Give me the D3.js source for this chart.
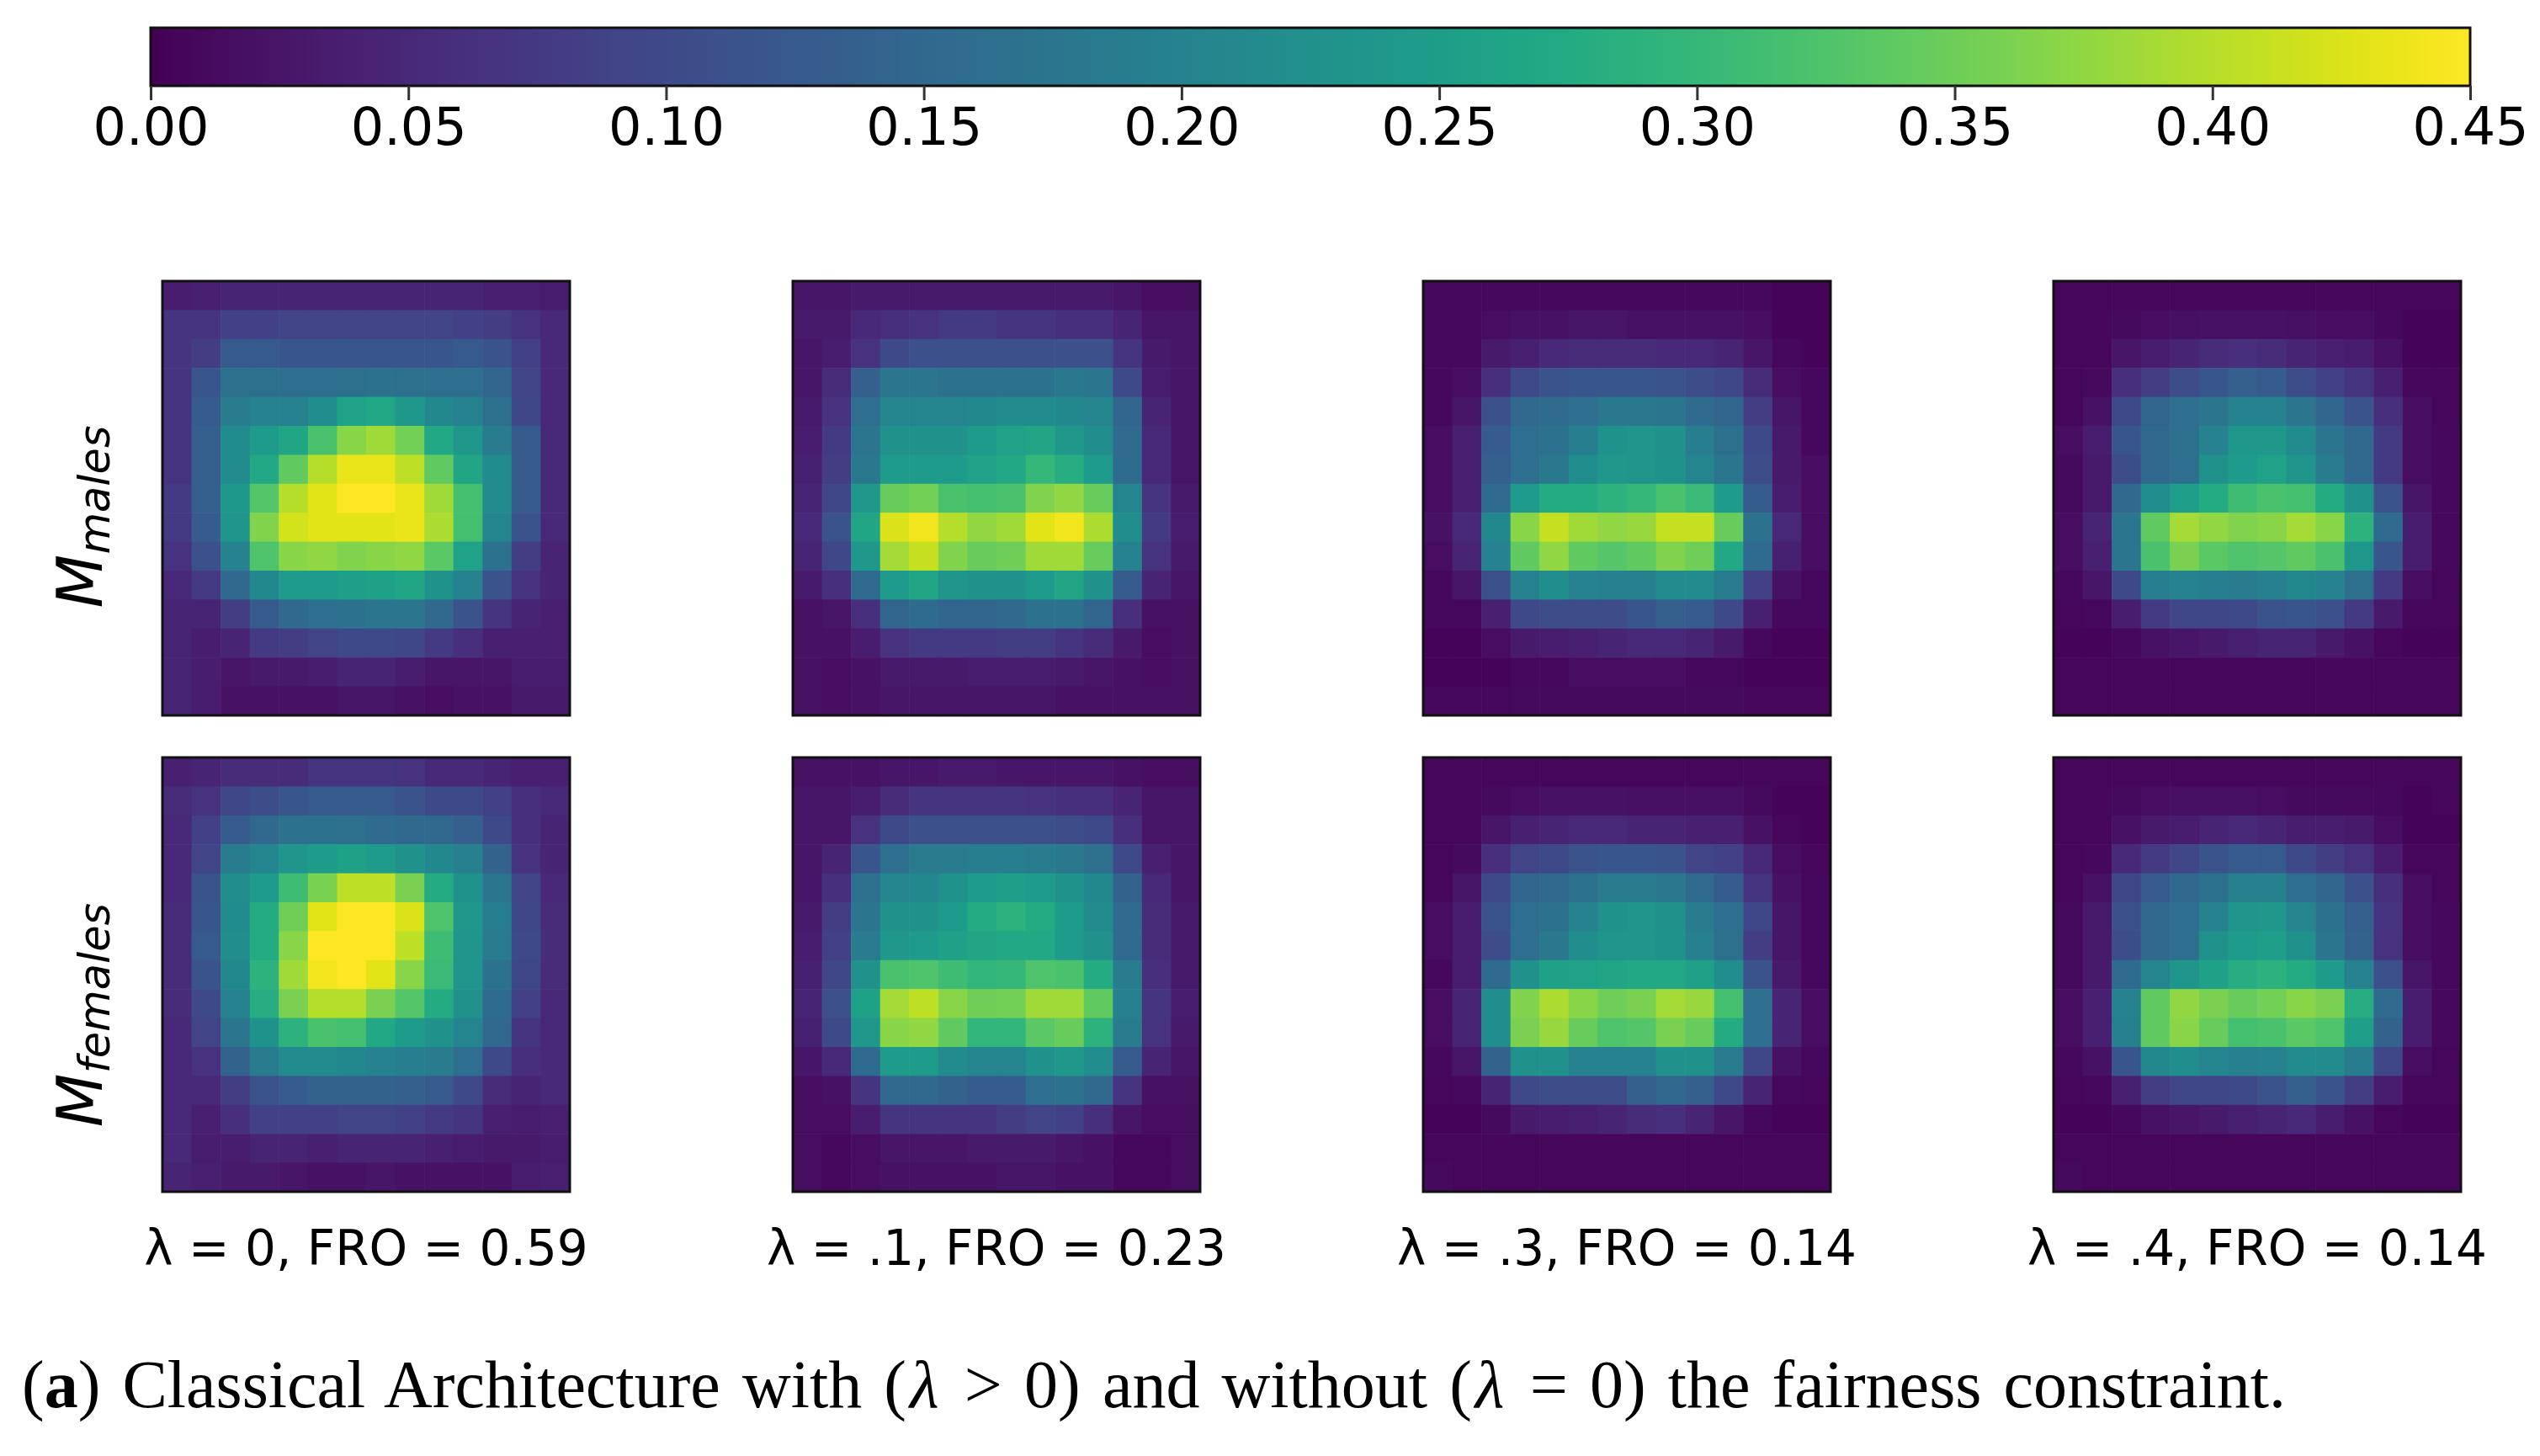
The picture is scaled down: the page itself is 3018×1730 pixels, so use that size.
<!DOCTYPE html>
<html>
<head>
<meta charset="utf-8">
<script src="https://cdn.jsdelivr.net/npm/d3@7"></script>
<style>
    body { margin: 0; background: #fff; }
</style>
</head>
<body>
<script>
//Colorbar ticks and panel labels
var colorTicks = [0.00, 0.05, 0.10, 0.15, 0.20, 0.25, 0.30, 0.35, 0.40, 0.45];
var lambdas = ["0", ".1", ".3", ".4"];
var froScores = ["0.59", "0.23", "0.14", "0.14"];
var rowNames = ["males", "females"];

//Heatmaps: 15 rows x 14 columns each
var malesL0 = [
    [0.035,0.04,0.045,0.045,0.045,0.045,0.045,0.045,0.045,0.045,0.045,0.04,0.04,0.035],
    [0.07,0.07,0.085,0.085,0.09,0.09,0.09,0.09,0.09,0.09,0.085,0.08,0.065,0.05],
    [0.07,0.08,0.125,0.125,0.12,0.12,0.12,0.12,0.12,0.12,0.125,0.115,0.085,0.05],
    [0.07,0.12,0.165,0.165,0.16,0.16,0.165,0.17,0.165,0.16,0.16,0.145,0.09,0.05],
    [0.07,0.13,0.185,0.2,0.2,0.22,0.26,0.27,0.24,0.21,0.2,0.165,0.095,0.05],
    [0.07,0.135,0.215,0.245,0.265,0.32,0.37,0.385,0.355,0.27,0.24,0.185,0.125,0.05],
    [0.07,0.135,0.215,0.27,0.34,0.4,0.435,0.435,0.405,0.34,0.265,0.215,0.125,0.05],
    [0.075,0.135,0.24,0.33,0.4,0.43,0.45,0.45,0.435,0.385,0.315,0.215,0.13,0.05],
    [0.075,0.13,0.235,0.365,0.42,0.43,0.43,0.43,0.435,0.395,0.315,0.205,0.115,0.05],
    [0.065,0.11,0.2,0.325,0.37,0.375,0.365,0.37,0.375,0.335,0.26,0.17,0.08,0.045],
    [0.05,0.075,0.15,0.21,0.245,0.245,0.25,0.255,0.265,0.23,0.2,0.115,0.065,0.045],
    [0.045,0.045,0.08,0.125,0.15,0.16,0.17,0.175,0.175,0.15,0.115,0.07,0.045,0.04],
    [0.045,0.035,0.045,0.075,0.08,0.09,0.1,0.1,0.095,0.075,0.06,0.04,0.04,0.04],
    [0.045,0.035,0.025,0.03,0.03,0.035,0.045,0.045,0.035,0.025,0.025,0.025,0.035,0.035],
    [0.045,0.035,0.02,0.02,0.02,0.02,0.025,0.025,0.02,0.015,0.02,0.02,0.03,0.03]
];
var femalesL0 = [
    [0.04,0.045,0.055,0.055,0.055,0.07,0.07,0.07,0.065,0.05,0.05,0.045,0.04,0.04],
    [0.055,0.065,0.095,0.105,0.12,0.125,0.125,0.125,0.115,0.1,0.1,0.085,0.06,0.05],
    [0.05,0.085,0.13,0.15,0.17,0.17,0.165,0.155,0.15,0.15,0.135,0.1,0.06,0.045],
    [0.05,0.09,0.185,0.205,0.235,0.245,0.255,0.245,0.225,0.21,0.195,0.14,0.065,0.045],
    [0.05,0.115,0.22,0.245,0.31,0.36,0.405,0.405,0.36,0.275,0.23,0.175,0.09,0.05],
    [0.055,0.12,0.215,0.275,0.35,0.43,0.45,0.45,0.425,0.325,0.24,0.19,0.095,0.055],
    [0.055,0.125,0.22,0.275,0.37,0.45,0.45,0.45,0.405,0.31,0.235,0.185,0.1,0.055],
    [0.055,0.115,0.21,0.29,0.385,0.44,0.45,0.43,0.37,0.305,0.235,0.17,0.095,0.055],
    [0.055,0.1,0.2,0.28,0.36,0.4,0.4,0.36,0.33,0.275,0.225,0.155,0.085,0.05],
    [0.05,0.09,0.175,0.23,0.29,0.32,0.315,0.27,0.245,0.225,0.205,0.15,0.07,0.05],
    [0.05,0.065,0.14,0.185,0.215,0.215,0.21,0.2,0.19,0.185,0.16,0.1,0.06,0.05],
    [0.05,0.05,0.08,0.115,0.13,0.14,0.14,0.14,0.135,0.125,0.1,0.055,0.045,0.05],
    [0.05,0.04,0.06,0.085,0.085,0.085,0.09,0.09,0.085,0.075,0.07,0.04,0.035,0.04],
    [0.05,0.035,0.035,0.045,0.045,0.04,0.045,0.045,0.045,0.04,0.035,0.03,0.03,0.035],
    [0.045,0.04,0.03,0.03,0.025,0.02,0.02,0.025,0.02,0.02,0.02,0.02,0.035,0.04]
];
var malesL1 = [
    [0.025,0.025,0.03,0.03,0.03,0.03,0.03,0.03,0.03,0.03,0.03,0.025,0.015,0.015],
    [0.03,0.03,0.05,0.06,0.065,0.075,0.075,0.07,0.07,0.06,0.06,0.045,0.025,0.025],
    [0.025,0.035,0.065,0.1,0.11,0.11,0.11,0.11,0.11,0.11,0.11,0.07,0.03,0.025],
    [0.025,0.055,0.135,0.175,0.175,0.17,0.17,0.17,0.17,0.18,0.175,0.1,0.035,0.025],
    [0.03,0.065,0.16,0.205,0.205,0.205,0.21,0.215,0.215,0.21,0.205,0.145,0.045,0.025],
    [0.035,0.075,0.175,0.225,0.225,0.225,0.245,0.26,0.265,0.24,0.22,0.155,0.05,0.025],
    [0.04,0.08,0.18,0.245,0.245,0.245,0.26,0.27,0.3,0.28,0.245,0.155,0.05,0.025],
    [0.045,0.095,0.24,0.345,0.355,0.32,0.315,0.32,0.365,0.375,0.345,0.205,0.07,0.03],
    [0.05,0.115,0.265,0.425,0.44,0.4,0.375,0.385,0.43,0.44,0.395,0.22,0.075,0.035],
    [0.045,0.095,0.24,0.39,0.41,0.365,0.345,0.35,0.385,0.385,0.345,0.2,0.065,0.03],
    [0.03,0.06,0.155,0.245,0.265,0.235,0.225,0.225,0.245,0.265,0.225,0.13,0.045,0.025],
    [0.02,0.025,0.06,0.145,0.155,0.145,0.145,0.15,0.17,0.17,0.145,0.06,0.02,0.02],
    [0.02,0.02,0.035,0.065,0.075,0.075,0.075,0.08,0.08,0.07,0.055,0.03,0.015,0.02],
    [0.02,0.015,0.02,0.03,0.03,0.03,0.035,0.035,0.035,0.03,0.025,0.02,0.015,0.02],
    [0.02,0.015,0.02,0.025,0.025,0.025,0.025,0.025,0.025,0.02,0.02,0.02,0.02,0.02]
];
var femalesL1 = [
    [0.02,0.02,0.02,0.025,0.025,0.03,0.03,0.025,0.025,0.025,0.025,0.02,0.015,0.015],
    [0.025,0.025,0.035,0.055,0.07,0.07,0.07,0.07,0.065,0.06,0.06,0.045,0.025,0.025],
    [0.025,0.025,0.065,0.1,0.11,0.11,0.11,0.11,0.11,0.105,0.1,0.06,0.025,0.025],
    [0.025,0.045,0.12,0.16,0.185,0.185,0.19,0.19,0.185,0.18,0.165,0.1,0.04,0.025],
    [0.025,0.06,0.165,0.205,0.21,0.23,0.245,0.25,0.245,0.23,0.21,0.14,0.05,0.025],
    [0.03,0.08,0.175,0.225,0.225,0.245,0.275,0.29,0.275,0.245,0.215,0.155,0.055,0.03],
    [0.035,0.085,0.185,0.24,0.245,0.255,0.265,0.27,0.27,0.245,0.225,0.155,0.055,0.03],
    [0.04,0.095,0.225,0.32,0.325,0.31,0.295,0.3,0.325,0.32,0.275,0.185,0.06,0.03],
    [0.045,0.11,0.255,0.39,0.405,0.37,0.35,0.355,0.385,0.385,0.34,0.195,0.07,0.035],
    [0.04,0.1,0.24,0.37,0.375,0.34,0.295,0.295,0.335,0.345,0.29,0.185,0.065,0.03],
    [0.025,0.05,0.155,0.245,0.245,0.215,0.205,0.205,0.225,0.24,0.22,0.13,0.045,0.025],
    [0.015,0.02,0.07,0.15,0.15,0.14,0.13,0.13,0.16,0.17,0.15,0.07,0.02,0.02],
    [0.015,0.015,0.035,0.07,0.07,0.07,0.07,0.08,0.09,0.085,0.06,0.025,0.015,0.015],
    [0.015,0.01,0.015,0.025,0.025,0.025,0.03,0.03,0.03,0.025,0.02,0.01,0.01,0.015],
    [0.015,0.01,0.015,0.02,0.02,0.02,0.02,0.025,0.025,0.02,0.02,0.01,0.01,0.015]
];
var malesL3 = [
    [0.01,0.01,0.01,0.01,0.01,0.01,0.01,0.01,0.01,0.01,0.01,0.01,0.005,0.005],
    [0.01,0.01,0.015,0.02,0.02,0.025,0.025,0.02,0.02,0.02,0.02,0.015,0.005,0.005],
    [0.01,0.01,0.03,0.04,0.05,0.055,0.055,0.055,0.05,0.05,0.045,0.025,0.01,0.005],
    [0.01,0.015,0.06,0.1,0.115,0.12,0.12,0.12,0.115,0.105,0.095,0.055,0.015,0.01],
    [0.01,0.025,0.11,0.15,0.155,0.16,0.18,0.18,0.175,0.155,0.145,0.08,0.025,0.01],
    [0.015,0.04,0.13,0.16,0.17,0.19,0.23,0.235,0.225,0.19,0.165,0.1,0.03,0.01],
    [0.015,0.04,0.135,0.16,0.18,0.22,0.24,0.235,0.23,0.205,0.175,0.105,0.03,0.015],
    [0.015,0.04,0.155,0.245,0.275,0.275,0.29,0.3,0.32,0.305,0.245,0.13,0.035,0.015],
    [0.02,0.05,0.21,0.37,0.41,0.385,0.375,0.38,0.41,0.41,0.345,0.17,0.05,0.015],
    [0.015,0.045,0.2,0.34,0.375,0.34,0.33,0.34,0.365,0.35,0.27,0.155,0.04,0.015],
    [0.01,0.025,0.11,0.2,0.22,0.2,0.195,0.195,0.215,0.215,0.185,0.085,0.02,0.01],
    [0.01,0.01,0.04,0.1,0.105,0.105,0.105,0.12,0.135,0.13,0.1,0.04,0.01,0.01],
    [0.005,0.005,0.015,0.03,0.035,0.04,0.045,0.05,0.05,0.045,0.03,0.01,0.005,0.005],
    [0.005,0.005,0.005,0.01,0.01,0.015,0.015,0.015,0.015,0.01,0.01,0.005,0.005,0.005],
    [0.01,0.01,0.01,0.012,0.012,0.012,0.012,0.012,0.012,0.012,0.012,0.008,0.008,0.008]
];
var femalesL3 = [
    [0.008,0.008,0.008,0.008,0.008,0.008,0.008,0.008,0.008,0.008,0.008,0.008,0.008,0.008],
    [0.008,0.008,0.012,0.015,0.02,0.02,0.02,0.018,0.018,0.018,0.018,0.012,0.005,0.005],
    [0.008,0.008,0.025,0.04,0.045,0.05,0.05,0.045,0.045,0.04,0.04,0.02,0.008,0.005],
    [0.008,0.012,0.06,0.09,0.1,0.115,0.12,0.12,0.115,0.09,0.085,0.05,0.015,0.008],
    [0.008,0.025,0.1,0.145,0.15,0.17,0.185,0.185,0.18,0.155,0.13,0.07,0.02,0.01],
    [0.015,0.035,0.115,0.16,0.17,0.2,0.23,0.235,0.225,0.185,0.16,0.095,0.025,0.01],
    [0.015,0.035,0.105,0.16,0.18,0.22,0.235,0.235,0.23,0.195,0.165,0.08,0.025,0.01],
    [0.01,0.035,0.155,0.225,0.255,0.26,0.265,0.27,0.27,0.255,0.22,0.115,0.03,0.01],
    [0.015,0.045,0.22,0.365,0.395,0.37,0.35,0.36,0.39,0.38,0.315,0.16,0.045,0.015],
    [0.015,0.045,0.22,0.36,0.38,0.345,0.325,0.33,0.36,0.345,0.275,0.16,0.045,0.015],
    [0.01,0.025,0.14,0.225,0.225,0.2,0.2,0.2,0.225,0.225,0.185,0.095,0.02,0.01],
    [0.008,0.01,0.045,0.1,0.105,0.105,0.105,0.135,0.15,0.135,0.1,0.045,0.01,0.008],
    [0.005,0.005,0.012,0.03,0.035,0.04,0.045,0.055,0.06,0.045,0.025,0.01,0.005,0.005],
    [0.008,0.008,0.008,0.008,0.008,0.008,0.008,0.008,0.008,0.008,0.008,0.008,0.008,0.008],
    [0.012,0.008,0.008,0.008,0.008,0.008,0.008,0.008,0.008,0.008,0.008,0.008,0.008,0.008]
];
var malesL4 = [
    [0.008,0.008,0.008,0.008,0.008,0.008,0.008,0.008,0.008,0.008,0.008,0.008,0.008,0.008],
    [0.008,0.008,0.012,0.015,0.018,0.02,0.02,0.02,0.018,0.015,0.015,0.01,0.005,0.005],
    [0.008,0.008,0.025,0.035,0.045,0.055,0.06,0.055,0.045,0.04,0.035,0.02,0.005,0.005],
    [0.008,0.012,0.06,0.08,0.105,0.12,0.135,0.13,0.105,0.085,0.07,0.04,0.008,0.008],
    [0.008,0.02,0.1,0.145,0.16,0.175,0.2,0.2,0.175,0.145,0.115,0.06,0.015,0.008],
    [0.015,0.035,0.12,0.15,0.165,0.2,0.24,0.24,0.215,0.175,0.15,0.075,0.015,0.01],
    [0.012,0.03,0.105,0.15,0.16,0.225,0.245,0.26,0.235,0.185,0.15,0.075,0.015,0.01],
    [0.012,0.03,0.15,0.22,0.25,0.275,0.31,0.32,0.315,0.275,0.225,0.115,0.025,0.01],
    [0.015,0.045,0.175,0.34,0.39,0.375,0.365,0.37,0.39,0.37,0.29,0.155,0.035,0.01],
    [0.015,0.04,0.175,0.32,0.36,0.335,0.325,0.33,0.34,0.32,0.24,0.12,0.035,0.01],
    [0.01,0.025,0.1,0.19,0.2,0.19,0.185,0.195,0.21,0.2,0.165,0.075,0.015,0.008],
    [0.008,0.01,0.035,0.075,0.095,0.095,0.1,0.115,0.12,0.11,0.075,0.03,0.008,0.008],
    [0.005,0.005,0.01,0.02,0.025,0.03,0.04,0.045,0.045,0.03,0.02,0.008,0.005,0.005],
    [0.008,0.008,0.008,0.008,0.008,0.008,0.008,0.008,0.008,0.008,0.008,0.008,0.008,0.008],
    [0.008,0.008,0.008,0.008,0.008,0.008,0.008,0.008,0.008,0.008,0.008,0.008,0.008,0.008]
];
var femalesL4 = [
    [0.008,0.008,0.008,0.008,0.008,0.008,0.008,0.008,0.008,0.008,0.008,0.008,0.008,0.008],
    [0.008,0.008,0.012,0.015,0.018,0.018,0.018,0.015,0.012,0.012,0.012,0.01,0.005,0.008],
    [0.008,0.008,0.02,0.03,0.035,0.045,0.05,0.045,0.035,0.035,0.03,0.015,0.005,0.005],
    [0.008,0.01,0.05,0.075,0.095,0.115,0.13,0.125,0.1,0.08,0.065,0.035,0.008,0.008],
    [0.008,0.02,0.095,0.125,0.15,0.17,0.195,0.195,0.16,0.145,0.11,0.06,0.015,0.008],
    [0.012,0.03,0.11,0.15,0.16,0.2,0.235,0.24,0.205,0.17,0.135,0.07,0.015,0.01],
    [0.012,0.03,0.105,0.15,0.16,0.225,0.245,0.25,0.225,0.175,0.14,0.065,0.015,0.01],
    [0.012,0.03,0.155,0.205,0.235,0.255,0.28,0.29,0.275,0.245,0.2,0.11,0.025,0.01],
    [0.015,0.04,0.2,0.34,0.375,0.36,0.345,0.355,0.37,0.36,0.28,0.155,0.035,0.01],
    [0.015,0.04,0.195,0.34,0.37,0.345,0.315,0.32,0.335,0.325,0.25,0.14,0.035,0.01],
    [0.01,0.02,0.12,0.21,0.22,0.205,0.195,0.2,0.215,0.215,0.185,0.095,0.015,0.008],
    [0.008,0.01,0.04,0.08,0.095,0.095,0.1,0.115,0.135,0.115,0.08,0.035,0.008,0.008],
    [0.005,0.005,0.01,0.02,0.025,0.03,0.04,0.045,0.05,0.035,0.02,0.008,0.005,0.005],
    [0.008,0.008,0.008,0.008,0.008,0.008,0.008,0.008,0.008,0.008,0.008,0.008,0.008,0.008],
    [0.012,0.008,0.008,0.008,0.008,0.008,0.008,0.008,0.008,0.008,0.008,0.008,0.008,0.008]
];

//One grid row per group, one column per lambda
var grids = [
    [malesL0, malesL1, malesL3, malesL4],
    [femalesL0, femalesL1, femalesL3, femalesL4]
];

//Page geometry
var width = 3018,
    height = 1730;
var cbar = {left: 179, right: 2935, top: 33, bottom: 102};
var panel = {left: 193, step: 749, w: 484, h: 516, tops: [334, 900]};
var sansFont = "'DejaVu Sans', sans-serif";

var svg = d3.select("body").append("svg")
    .attr("width", width)
    .attr("height", height)
    .style("display", "block")
    .style("background", "#fff");

//Shared colour scale, same range for every panel
var color = d3.scaleSequential(d3.interpolateViridis)
    .domain([colorTicks[0], colorTicks[colorTicks.length - 1]]);

//Colorbar gradient
var grad = svg.append("defs").append("linearGradient")
    .attr("id", "cbarGrad")
    .attr("x1", "0%").attr("x2", "100%")
    .attr("y1", "0%").attr("y2", "0%");
grad.selectAll("stop")
    .data(d3.range(0, 41))
    .enter().append("stop")
    .attr("offset", function(i) { return (i / 40 * 100) + "%"; })
    .attr("stop-color", function(i) {
        return color(color.domain()[1] * i / 40);
    });

var cx = d3.scaleLinear()
    .domain(color.domain())
    .range([cbar.left, cbar.right]);

svg.append("rect")
    .attr("x", cbar.left)
    .attr("y", cbar.top)
    .attr("width", cbar.right - cbar.left)
    .attr("height", cbar.bottom - cbar.top)
    .attr("fill", "url(#cbarGrad)")
    .attr("stroke", "#111")
    .attr("stroke-width", 3);

var cAxis = svg.append("g")
    .attr("transform", "translate(0," + cbar.bottom + ")")
    .call(d3.axisBottom(cx)
        .tickValues(colorTicks)
        .tickFormat(d3.format(".2f"))
        .tickSize(17)
        .tickPadding(9));
cAxis.select(".domain").remove();
cAxis.selectAll(".tick line")
    .attr("stroke", "#333")
    .attr("stroke-width", 3);
cAxis.selectAll(".tick text")
    .attr("fill", "#000")
    .style("font-family", sansFont)
    .style("font-size", "62px");

//Heatmap panels
var xb = d3.scaleBand().domain(d3.range(14)).range([0, panel.w]);
var yb = d3.scaleBand().domain(d3.range(15)).range([0, panel.h]);

grids.forEach(function(row, r) {
    row.forEach(function(grid, c) {
        var g = svg.append("g")
            .attr("transform", "translate(" + (panel.left + c * panel.step) +
                "," + panel.tops[r] + ")");

        var cells = [];
        grid.forEach(function(vals, i) {
            vals.forEach(function(v, j) {
                cells.push({i: i, j: j, v: v});
            });
        });

        g.selectAll("rect.cell")
            .data(cells)
            .enter().append("rect")
            .attr("class", "cell")
            .attr("x", function(d) { return xb(d.j); })
            .attr("y", function(d) { return yb(d.i); })
            .attr("width", xb.bandwidth() + 0.6)
            .attr("height", yb.bandwidth() + 0.6)
            .attr("fill", function(d) { return color(d.v); });

        g.append("rect")
            .attr("width", panel.w)
            .attr("height", panel.h)
            .attr("fill", "none")
            .attr("stroke", "#111")
            .attr("stroke-width", 3);
    });
});

//Row labels M_males / M_females
var labelY = [614, 1206];
rowNames.forEach(function(name, r) {
    var t = svg.append("text")
        .attr("transform", "translate(121," + labelY[r] + ") rotate(-90)")
        .attr("text-anchor", "middle")
        .style("font-family", sansFont)
        .style("font-style", "italic")
        .attr("fill", "#000");
    t.append("tspan")
        .style("font-size", "74px")
        .text("M");
    t.append("tspan")
        .attr("dy", 9)
        .style("font-size", "51px")
        .text(name);
});

//Panel captions under the bottom row
svg.selectAll("text.caption")
    .data(lambdas)
    .enter().append("text")
    .attr("class", "caption")
    .attr("x", function(d, i) { return panel.left + i * panel.step + panel.w / 2; })
    .attr("y", 1503)
    .attr("text-anchor", "middle")
    .attr("fill", "#000")
    .style("font-family", sansFont)
    .style("font-size", "58px")
    .text(function(d, i) { return "\u03bb = " + d + ", FRO = " + froScores[i]; });

//Figure caption, word spacing set so the line spans the reference width
var capWidth = 2690;
var cap = svg.append("text")
    .attr("x", 26)
    .attr("y", 1672)
    .attr("fill", "#000")
    .style("font-family", "'Liberation Serif', 'DejaVu Serif', serif")
    .style("font-size", "80px");
cap.append("tspan").text("(");
cap.append("tspan").style("font-weight", "bold").text("a");
cap.append("tspan").text(") Classical Architecture with (");
cap.append("tspan").attr("dx", 4).style("font-style", "italic").text("\u03bb");
cap.append("tspan").attr("dx", 4).text(" > 0) and without (");
cap.append("tspan").attr("dx", 4).style("font-style", "italic").text("\u03bb");
cap.append("tspan").attr("dx", 4).text(" = 0) the fairness constraint.");

var capLen = cap.node().getBBox().width;
var spaces = 14;
cap.style("word-spacing", Math.max(0, (capWidth - capLen) / spaces) + "px");
</script>
</body>
</html>
